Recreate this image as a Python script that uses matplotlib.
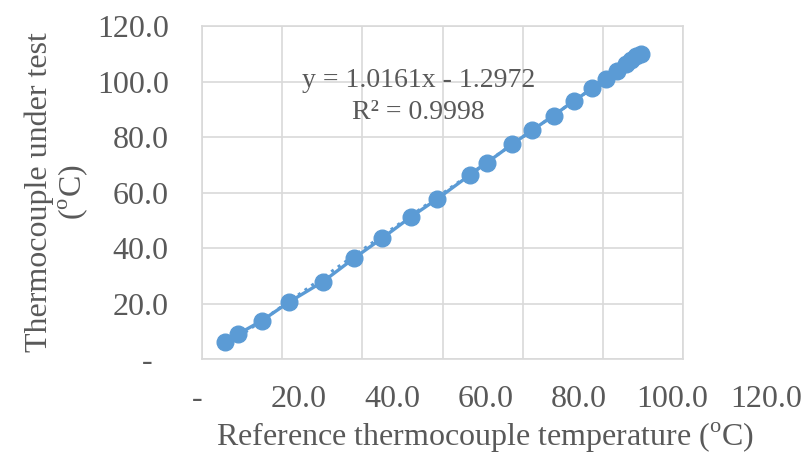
import matplotlib.pyplot as plt
import numpy as np

plt.rcParams['font.family'] = ['Liberation Serif', 'DejaVu Serif']
plt.rcParams['mathtext.fontset'] = 'custom'
plt.rcParams['mathtext.rm'] = 'Liberation Serif'

# Readings (deg C)
ref_temp = [5.8, 9.0, 14.9, 21.8, 30.2, 37.9, 44.9, 52.2, 58.7, 66.8, 71.0,
            77.4, 82.4, 87.7, 92.8, 97.4, 100.8, 103.5, 105.8, 107.1, 108.3, 109.5]
test_temp = [6.2, 9.0, 13.8, 20.6, 27.9, 36.3, 43.5, 51.3, 57.7, 66.3, 70.7,
             77.4, 82.5, 87.7, 93.1, 97.5, 100.8, 103.8, 106.3, 107.9, 109.1, 110.0]
slope, intercept, r2 = 1.0161, -1.2972, 0.9998

ticks = [0, 20, 40, 60, 80, 100, 120]
x_labels = ['-  ', '20.0', '40.0', '60.0', '80.0', '100.0', '120.0']
y_labels = ['-  ', '20.0', '40.0', '60.0', '80.0', '100.0', '120.0']

blue = '#5B9BD5'
grey = '#595959'
grid = '#D9D9D9'
fs = 23

fig = plt.figure(figsize=(8.03, 4.57), dpi=100)
ax = fig.add_axes([0.2516, 0.2144, 0.599, 0.7287])

# trendline (dotted) under the data
xt = np.array([min(ref_temp), max(ref_temp)])
ax.plot(xt, slope * xt + intercept, ':', color=blue, lw=2.2, zorder=2)
ax.plot(ref_temp, test_temp, '-o', color=blue, lw=2.4, ms=12, zorder=3)

ax.set_xlim(0, 120)
ax.set_ylim(0, 120)
ax.set_xticks(ticks)
ax.set_yticks(ticks)
ax.set_yticklabels(y_labels)
ax.tick_params(length=0, labelsize=fs, labelcolor=grey)
ax.tick_params(axis='x', labelbottom=False)
ax.tick_params(axis='y', pad=24)
ax.grid(True, color=grid, lw=1.2)
ax.set_axisbelow(True)
for s in ax.spines.values():
    s.set_color(grid)
    s.set_linewidth(1.2)

ax.set_ylabel('Thermocouple under test\n' + r'($^{\mathrm{o}}$C)',
              fontsize=fs, color=grey, labelpad=5, linespacing=1.1)

ax.text(54, 94.6, f'y = {slope}x - {abs(intercept)}\nR² = {r2}',
        fontsize=20, color=grey, ha='center', va='center', linespacing=1.4)

# horizontal axis labels sit on a slightly wider scale than the plot area
axb = fig.add_axes([205 / 803, 0.2144, 561 / 803, 0.0001])
axb.set_xlim(0, 120)
axb.set_xticks(ticks)
axb.set_xticklabels(x_labels)
axb.set_yticks([])
axb.tick_params(length=0, labelsize=fs, labelcolor=grey, pad=19)
axb.patch.set_visible(False)
for s in axb.spines.values():
    s.set_visible(False)
axb.set_xlabel(r'Reference thermocouple temperature ($^{\mathrm{o}}$C)',
               fontsize=fs, color=grey, labelpad=5)

fig.savefig('out.png', dpi=100)
